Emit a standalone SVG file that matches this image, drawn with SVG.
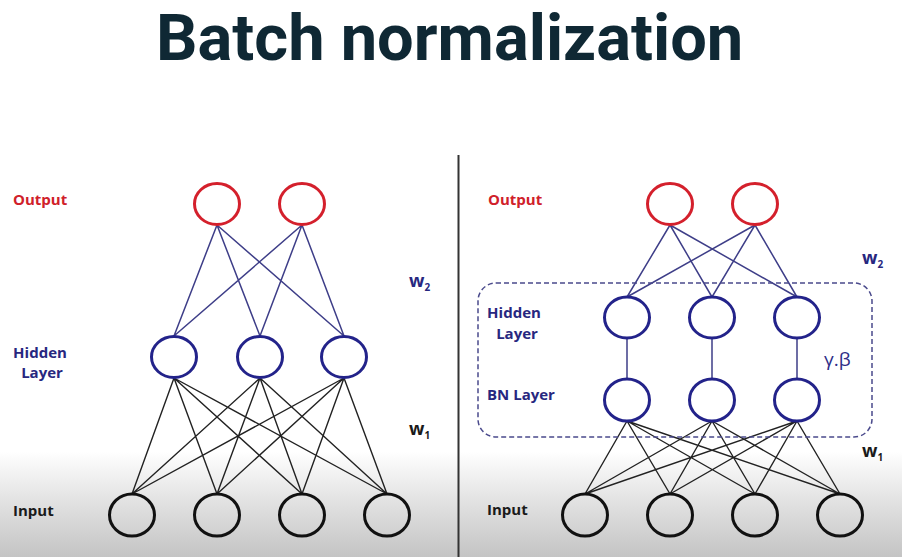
<svg xmlns="http://www.w3.org/2000/svg" width="902" height="557" viewBox="0 0 902 557">
  <defs>
    <linearGradient id="bg" x1="0" y1="0" x2="0" y2="557" gradientUnits="userSpaceOnUse">
      <stop offset="0" stop-color="#ffffff"/>
      <stop offset="0.81" stop-color="#ffffff"/>
      <stop offset="0.9" stop-color="#e2e2e2"/>
      <stop offset="1" stop-color="#c4c4c4"/>
    </linearGradient>
    <style>
      .title { font-family: Roboto, "Liberation Sans", sans-serif; font-weight: 700; font-size: 65px; fill: #0f2834; }
      .lbl { font-family: "Open Sans", "Liberation Sans", sans-serif; font-weight: 700; font-size: 15px; }
      .red { fill: #d0202a; }
      .blue { fill: #27277f; }
      .blk { fill: #1a1a1a; }
      .w { font-family: "Open Sans", "Liberation Sans", sans-serif; font-weight: 700; font-size: 18px; }
      .sub { font-size: 10px; }
      .gb { font-family: "Open Sans", "Liberation Sans", sans-serif; font-size: 19px; fill: #2e2e88; }
      .out { fill: none; stroke: #d4202c; stroke-width: 3; }
      .hid { fill: none; stroke: #23238a; stroke-width: 3; }
      .inp { fill: none; stroke: #111111; stroke-width: 3; }
      .eb { stroke: #3e3e88; stroke-width: 1.5; fill: none; }
      .ek { stroke: #222222; stroke-width: 1.4; fill: none; }
    </style>
  </defs>

  <rect x="0" y="0" width="902" height="557" fill="url(#bg)"/>

  <text class="title" x="156" y="60">Batch normalization</text>

  <!-- panel divider -->
  <line x1="458.5" y1="155" x2="458.5" y2="557" stroke="#333333" stroke-width="2"/>

  <!-- connectors -->
  <g id="connectors">
    <!-- left: output -> hidden (w2) -->
    <path class="eb" d="M217 225L174 336M217 225L260 336M217 225L344 336M302 225L174 336M302 225L260 336M302 225L344 336"/>
    <!-- left: hidden -> input (w1) -->
    <path class="ek" d="M174 378L132 494M174 378L217 494M174 378L302 494M174 378L387 494
                        M260 378L132 494M260 378L217 494M260 378L302 494M260 378L387 494
                        M344 378L132 494M344 378L217 494M344 378L302 494M344 378L387 494"/>
    <!-- right: output -> hidden (w2) -->
    <path class="eb" d="M670 225L627 297M670 225L712 297M670 225L797 297M755 225L627 297M755 225L712 297M755 225L797 297"/>
    <!-- right: hidden -> BN -->
    <path class="eb" d="M627 338L627 379M712 338L712 379M797 338L797 379"/>
    <!-- right: BN -> input (w1) -->
    <path class="ek" d="M627 421L585 494M627 421L670 494M627 421L755 494M627 421L840 494
                        M712 421L585 494M712 421L670 494M712 421L755 494M712 421L840 494
                        M797 421L585 494M797 421L670 494M797 421L755 494M797 421L840 494"/>
    <!-- BN block outline -->
    <rect x="478" y="283" width="394" height="154" rx="18" fill="none" stroke="#4a4a8c" stroke-width="1.5" stroke-dasharray="5 3"/>
  </g>

  <!-- left network -->
  <g id="L-out1"><ellipse class="out" cx="217" cy="204" rx="22.5" ry="20.5"/></g>
  <g id="L-out2"><ellipse class="out" cx="302" cy="204" rx="22.5" ry="20.5"/></g>
  <g id="L-hid1"><ellipse class="hid" cx="174" cy="357" rx="22.5" ry="20.5"/></g>
  <g id="L-hid2"><ellipse class="hid" cx="260" cy="357" rx="22.5" ry="20.5"/></g>
  <g id="L-hid3"><ellipse class="hid" cx="344" cy="357" rx="22.5" ry="20.5"/></g>
  <g id="L-in1"><ellipse class="inp" cx="132" cy="515" rx="22.5" ry="21"/></g>
  <g id="L-in2"><ellipse class="inp" cx="217" cy="515" rx="22.5" ry="21"/></g>
  <g id="L-in3"><ellipse class="inp" cx="302" cy="515" rx="22.5" ry="21"/></g>
  <g id="L-in4"><ellipse class="inp" cx="387" cy="515" rx="22.5" ry="21"/></g>

  <!-- right network -->
  <g id="R-out1"><ellipse class="out" cx="670" cy="204" rx="22.5" ry="20.5"/></g>
  <g id="R-out2"><ellipse class="out" cx="755" cy="204" rx="22.5" ry="20.5"/></g>
  <g id="R-hid1"><ellipse class="hid" cx="627" cy="317.5" rx="22.5" ry="20.5"/></g>
  <g id="R-hid2"><ellipse class="hid" cx="712" cy="317.5" rx="22.5" ry="20.5"/></g>
  <g id="R-hid3"><ellipse class="hid" cx="797" cy="317.5" rx="22.5" ry="20.5"/></g>
  <g id="R-bn1"><ellipse class="hid" cx="627" cy="400" rx="22.5" ry="21"/></g>
  <g id="R-bn2"><ellipse class="hid" cx="712" cy="400" rx="22.5" ry="21"/></g>
  <g id="R-bn3"><ellipse class="hid" cx="797" cy="400" rx="22.5" ry="21"/></g>
  <g id="R-in1"><ellipse class="inp" cx="585" cy="515" rx="22.5" ry="21"/></g>
  <g id="R-in2"><ellipse class="inp" cx="670" cy="515" rx="22.5" ry="21"/></g>
  <g id="R-in3"><ellipse class="inp" cx="755" cy="515" rx="22.5" ry="21"/></g>
  <g id="R-in4"><ellipse class="inp" cx="840" cy="515" rx="22.5" ry="21"/></g>

  <!-- labels -->
  <g id="labels">
    <text class="lbl red" x="13" y="205">Output</text>
    <text class="lbl blue" x="40" y="358" text-anchor="middle">Hidden</text>
    <text class="lbl blue" x="42" y="378" text-anchor="middle">Layer</text>
    <text class="lbl blk" x="13" y="516">Input</text>
    <text class="w blue" x="409" y="287">w<tspan class="sub" dy="4">2</tspan></text>
    <text class="w blk" x="409" y="435">w<tspan class="sub" dy="4">1</tspan></text>

    <text class="lbl red" x="488" y="205">Output</text>
    <text class="lbl blue" x="514" y="318" text-anchor="middle">Hidden</text>
    <text class="lbl blue" x="517" y="339" text-anchor="middle">Layer</text>
    <text class="lbl blue" x="487" y="400">BN Layer</text>
    <text class="lbl blk" x="487" y="515">Input</text>
    <text class="gb" x="824" y="366">γ.β</text>
    <text class="w blue" x="862" y="264">w<tspan class="sub" dy="4">2</tspan></text>
    <text class="w blk" x="862" y="457">w<tspan class="sub" dy="4">1</tspan></text>
  </g>
</svg>
